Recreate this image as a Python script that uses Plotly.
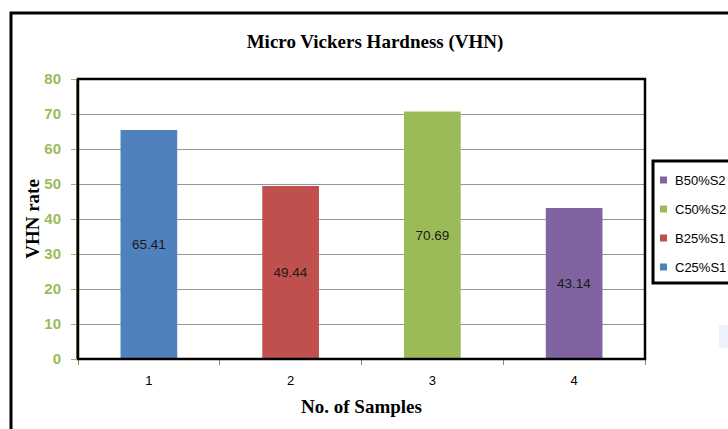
import plotly.graph_objects as go

samples = ["1", "2", "3", "4"]
series_names = ["C25%S1", "B25%S1", "C50%S2", "B50%S2"]
values = [65.41, 49.44, 70.69, 43.14]
colors = ["#4F81BD", "#C0504D", "#9BBB59", "#8064A2"]
y_ticks = [0, 10, 20, 30, 40, 50, 60, 70, 80]

fig = go.Figure()
for i, (name, val, col) in enumerate(zip(series_names, values, colors)):
    fig.add_trace(go.Bar(
        x=[samples[i]], y=[val], name=name,
        marker=dict(color=col, line=dict(width=0)),
        text=[f"{val:.2f}"], textposition="inside", insidetextanchor="middle",
        textfont=dict(family="Liberation Sans", size=13.5, color="#1a1a1a"),
        width=0.4, offset=-0.2, showlegend=False,
    ))

L, R, T, B = 78, 83, 79, 70
W, H = 728, 429
pw, ph = W - L - R, H - T - B

def px(x):
    return (x - L) / pw

def py(y):
    return (H - B - y) / ph

fig.update_layout(
    width=W, height=H,
    margin=dict(l=L, r=R, t=T, b=B, autoexpand=False),
    paper_bgcolor="white", plot_bgcolor="white",
    barmode="overlay",
    showlegend=False,
    title=dict(text="<b>Micro Vickers Hardness (VHN)</b>", x=375 / W, xanchor="center",
               y=1 - 41 / H, yanchor="middle",
               font=dict(family="Liberation Serif", size=19, color="black")),
    xaxis=dict(
        type="category", tickson="boundaries", ticks="outside", ticklen=5, tickcolor="#888",
        showline=False, showgrid=False, ticklabelstandoff=12,
        tickfont=dict(family="Liberation Sans", size=13, color="black"),
        title=dict(text="<b>No. of Samples</b>", standoff=12,
                   font=dict(family="Liberation Serif", size=19, color="black")),
    ),
    yaxis=dict(
        range=[0, 80], tickvals=y_ticks, ticks="outside", ticklen=5, tickcolor="#9BBB59",
        showgrid=True, gridcolor="#969696", gridwidth=1,
        showline=True, linecolor="#77933C", linewidth=2, ticklabelstandoff=7,
        tickfont=dict(family="Liberation Sans", size=15, color="#9BBB59", weight="bold"),
        title=dict(text="<b>VHN rate</b>", standoff=0,
                   font=dict(family="Liberation Serif", size=19, color="black")),
        zeroline=False,
    ),
)

# plot frame
fig.add_shape(type="rect", xref="paper", yref="paper", x0=0, x1=1, y0=0, y1=1,
              line=dict(color="black", width=2.5), layer="above")
# outer chart border (extends beyond the window on right/bottom)
fig.add_shape(type="rect", xref="paper", yref="paper",
              x0=px(11), x1=px(745), y0=py(445), y1=py(13),
              line=dict(color="black", width=3), layer="above")
# faint light patch at right edge
fig.add_shape(type="rect", xref="paper", yref="paper",
              x0=px(719), x1=px(728), y0=py(348), y1=py(325),
              line=dict(width=0), fillcolor="#EEF3FB", layer="below")

# legend box (entries listed in reverse series order, as in the reference)
fig.add_shape(type="rect", xref="paper", yref="paper",
              x0=px(653), x1=px(745), y0=py(283), y1=py(161),
              line=dict(color="black", width=3), fillcolor="white", layer="above")
legend_y = [180, 209, 238, 267]
for k, idx in enumerate(reversed(range(len(series_names)))):
    yc = legend_y[k]
    fig.add_shape(type="rect", xref="paper", yref="paper",
                  x0=px(660), x1=px(667), y0=py(yc + 3.5), y1=py(yc - 3.5),
                  line=dict(width=0), fillcolor=colors[idx], layer="above")
    fig.add_annotation(xref="paper", yref="paper", x=px(673), y=py(yc),
                       xanchor="left", yanchor="middle", showarrow=False,
                       text=series_names[idx],
                       font=dict(family="Liberation Sans", size=13, color="black"))

fig.write_html("out.html", config={"displayModeBar": False},
               post_script="document.body.style.margin='0';")
